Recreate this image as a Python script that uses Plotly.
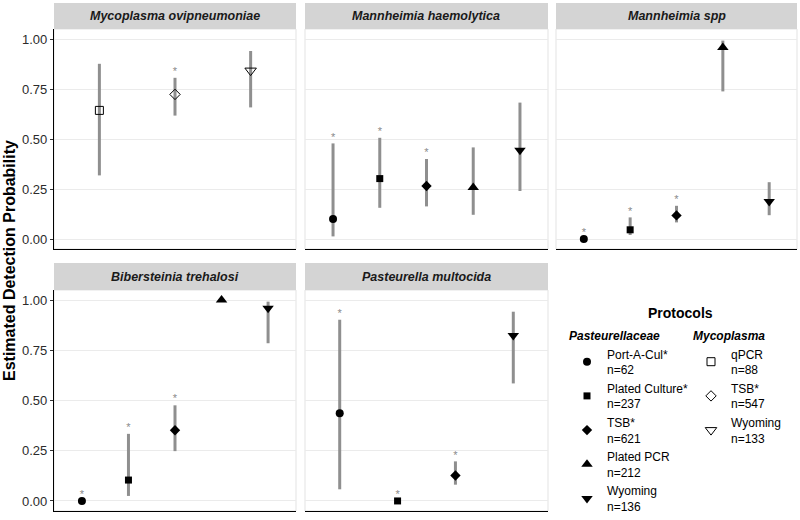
import plotly.graph_objects as go

# ---------------- data ----------------
panel_titles = ["Mycoplasma ovipneumoniae", "Mannheimia haemolytica", "Mannheimia spp",
                "Bibersteinia trehalosi", "Pasteurella multocida"]

myco_protocols = ["qPCR", "TSB*", "Wyoming"]
myco_n = [88, 547, 133]
past_protocols = ["Port-A-Cul*", "Plated Culture*", "TSB*", "Plated PCR", "Wyoming"]
past_n = [62, 237, 621, 212, 136]

# Mycoplasma ovipneumoniae
myco_est = [0.643, 0.723, 0.842]
myco_lo = [0.318, 0.617, 0.658]
myco_hi = [0.876, 0.806, 0.940]
myco_sig = [False, True, False]

# Mannheimia haemolytica
mh_prot = ["Port-A-Cul*", "Plated Culture*", "TSB*", "Plated PCR", "Wyoming"]
mh_est = [0.100, 0.302, 0.265, 0.257, 0.444]
mh_lo = [0.013, 0.156, 0.163, 0.121, 0.240]
mh_hi = [0.478, 0.506, 0.400, 0.458, 0.682]
mh_sig = [True, True, True, False, False]

# Mannheimia spp
ms_prot = ["Port-A-Cul*", "Plated Culture*", "TSB*", "Plated PCR", "Wyoming"]
ms_est = [0.000, 0.046, 0.118, 0.957, 0.187]
ms_lo = [0.000, 0.020, 0.083, 0.738, 0.119]
ms_hi = [0.000, 0.108, 0.166, 0.992, 0.284]
ms_sig = [True, True, True, False, False]

# Bibersteinia trehalosi
bt_prot = ["Port-A-Cul*", "Plated Culture*", "TSB*", "Plated PCR", "Wyoming"]
bt_est = [0.000, 0.104, 0.352, 1.000, 0.959]
bt_lo = [0.000, 0.025, 0.248, 1.000, 0.785]
bt_hi = [0.000, 0.334, 0.476, 1.000, 0.992]
bt_sig = [True, True, True, False, False]

# Pasteurella multocida
pm_prot = ["Port-A-Cul*", "Plated Culture*", "TSB*", "Wyoming"]
pm_est = [0.436, 0.000, 0.127, 0.823]
pm_lo = [0.058, 0.000, 0.081, 0.585]
pm_hi = [0.902, 0.000, 0.197, 0.942]
pm_sig = [True, True, True, False]

y_ticks = [0, 0.25, 0.5, 0.75, 1.0]
y_ticktext = ["0.00", "0.25", "0.50", "0.75", "1.00"]
star_offset = 0.05

# ---------------- styling ----------------
W, H = 800, 520
FONT = "Arial, Liberation Sans, Helvetica, sans-serif"
ERR_COL = "#8f8f8f"
PT_COL = "#000000"
STAR_GLYPH_RISE = 0.022   # compensates the '*' glyph sitting high in its text box

myco_symbols = {"qPCR": "square-open", "TSB*": "diamond-open", "Wyoming": "triangle-down-open"}
myco_sizes = {"qPCR": 8, "TSB*": 8, "Wyoming": 10}
past_symbols = {"Port-A-Cul*": "circle", "Plated Culture*": "square", "TSB*": "diamond",
                "Plated PCR": "triangle-up", "Wyoming": "triangle-down"}
past_sizes = {"Port-A-Cul*": 8, "Plated Culture*": 7, "TSB*": 8, "Plated PCR": 10, "Wyoming": 10}

# panel pixel boxes: (left, right) columns; (top, bottom, strip top) rows
col_x = [(54, 296), (305, 548), (556, 797)]
row_y = [(29, 249, 3), (290, 511, 263)]
layout_pos = [(0, 0), (0, 1), (0, 2), (1, 0), (1, 1)]

panels = [
    (myco_protocols, myco_est, myco_lo, myco_hi, myco_sig, True),
    (mh_prot, mh_est, mh_lo, mh_hi, mh_sig, False),
    (ms_prot, ms_est, ms_lo, ms_hi, ms_sig, False),
    (bt_prot, bt_est, bt_lo, bt_hi, bt_sig, False),
    (pm_prot, pm_est, pm_lo, pm_hi, pm_sig, False),
]

def px_x(p):
    return p / W

def px_y(p):
    return 1 - p / H

fig = go.Figure()
shapes = []
annotations = []
shown = set()

for k, (title, (prots, est, lo, hi, sig, is_myco), (r, c)) in enumerate(zip(panel_titles, panels, layout_pos)):
    ax = "" if k == 0 else str(k + 1)
    xl, xr = col_x[c]
    yt, yb, st = row_y[r]
    left_col = (c == 0)

    fig.update_layout(**{
        f"xaxis{ax}": dict(domain=[px_x(xl), px_x(xr)], anchor=f"y{ax}", type="category",
                           categoryorder="array", categoryarray=prots,
                           range=[-0.6, len(prots) - 0.4], showgrid=False, zeroline=False,
                           showticklabels=False, ticks="", showline=True,
                           linecolor="#000000", linewidth=1.2, fixedrange=True,
                           automargin=False),
        f"yaxis{ax}": dict(domain=[px_y(yb), px_y(yt)], anchor=f"x{ax}",
                           range=[-0.05, 1.05], tickvals=y_ticks, ticktext=y_ticktext,
                           showgrid=True, gridcolor="#ebebeb", gridwidth=1, zeroline=False,
                           showticklabels=left_col, ticks="outside" if left_col else "",
                           ticklen=3, tickcolor="#333333", tickwidth=1,
                           showline=left_col, linecolor="#000000", linewidth=1.2,
                           tickfont=dict(size=13, color="#2b2b2b", family=FONT),
                           fixedrange=True, automargin=False),
    })

    # panel border
    shapes.append(dict(type="rect", xref="paper", yref="paper",
                       x0=px_x(xl), x1=px_x(xr), y0=px_y(yb), y1=px_y(yt),
                       line=dict(color="#e3e3e3", width=1), fillcolor="rgba(0,0,0,0)",
                       layer="below"))
    # strip
    shapes.append(dict(type="rect", xref="paper", yref="paper",
                       x0=px_x(xl), x1=px_x(xr), y0=px_y(yt), y1=px_y(st),
                       line=dict(width=0), fillcolor="#d4d4d4", layer="below"))
    annotations.append(dict(text=f"<b><i>{title}</i></b>", xref="paper", yref="paper",
                            x=px_x((xl + xr) / 2), y=px_y((yt + st) / 2),
                            xanchor="center", yanchor="middle", showarrow=False,
                            font=dict(size=12.5, color="#1a1a1a", family=FONT)))

    # points with CI
    for i, p in enumerate(prots):
        if is_myco:
            sym, size, leg = myco_symbols[p], myco_sizes[p], "legend2"
            n = myco_n[myco_protocols.index(p)]
            group = "myco_" + p
        else:
            sym, size, leg = past_symbols[p], past_sizes[p], "legend"
            n = past_n[past_protocols.index(p)]
            group = "past_" + p
        show = group not in shown
        shown.add(group)
        fig.add_trace(go.Scatter(
            x=[p], y=[est[i]], mode="markers",
            xaxis=f"x{ax}", yaxis=f"y{ax}",
            name=f"{p}<br>n={n}", legendgroup=group, showlegend=show, legend=leg,
            marker=dict(symbol=sym, size=size, color=PT_COL,
                        line=dict(width=1 if is_myco else 0, color="#333333")),
            error_y=dict(type="data", symmetric=False,
                         array=[hi[i] - est[i]], arrayminus=[est[i] - lo[i]],
                         color=ERR_COL, thickness=3, width=0),
            hovertemplate=f"{p}: %{{y:.2f}}<extra>{title}</extra>",
        ))

    # asterisks for significant protocols
    sx = [p for p, s in zip(prots, sig) if s]
    sy = [h + star_offset - STAR_GLYPH_RISE for h, s in zip(hi, sig) if s]
    if sx:
        fig.add_trace(go.Scatter(
            x=sx, y=sy, mode="text", text=["*"] * len(sx),
            textposition="middle center",
            textfont=dict(size=11, color="#8a8a8a", family=FONT),
            xaxis=f"x{ax}", yaxis=f"y{ax}", showlegend=False, hoverinfo="skip"))

# axis title
annotations.append(dict(text="<b>Estimated Detection Probability</b>", xref="paper", yref="paper",
                        x=px_x(9), y=px_y(261), textangle=-90, showarrow=False,
                        xanchor="center", yanchor="middle",
                        font=dict(size=16, color="#000000", family=FONT)))
# legend header
annotations.append(dict(text="<b>Protocols</b>", xref="paper", yref="paper",
                        x=px_x(680), y=px_y(313), showarrow=False,
                        xanchor="center", yanchor="middle",
                        font=dict(size=14, color="#000000", family=FONT)))

fig.update_layout(
    width=W, height=H,
    margin=dict(l=0, r=0, t=0, b=0, autoexpand=False),
    paper_bgcolor="white", plot_bgcolor="white",
    font=dict(family=FONT, color="#000000"),
    shapes=shapes, annotations=annotations,
    legend=dict(x=px_x(567), xanchor="left", y=px_y(324), yanchor="top",
                title=dict(text="<b><i>Pasteurellaceae</i></b>", font=dict(size=12, family=FONT)),
                font=dict(size=12, family=FONT), tracegroupgap=0, traceorder="grouped",
                bgcolor="rgba(0,0,0,0)", itemsizing="trace"),
    legend2=dict(x=px_x(691), xanchor="left", y=px_y(324), yanchor="top",
                 title=dict(text="<b><i>Mycoplasma</i></b>", font=dict(size=12, family=FONT)),
                 font=dict(size=12, family=FONT), tracegroupgap=0, traceorder="grouped",
                 bgcolor="rgba(0,0,0,0)", itemsizing="trace"),
)

fig.write_html("out.html", config={"displayModeBar": False},
               post_script="document.body.style.margin='0';")
